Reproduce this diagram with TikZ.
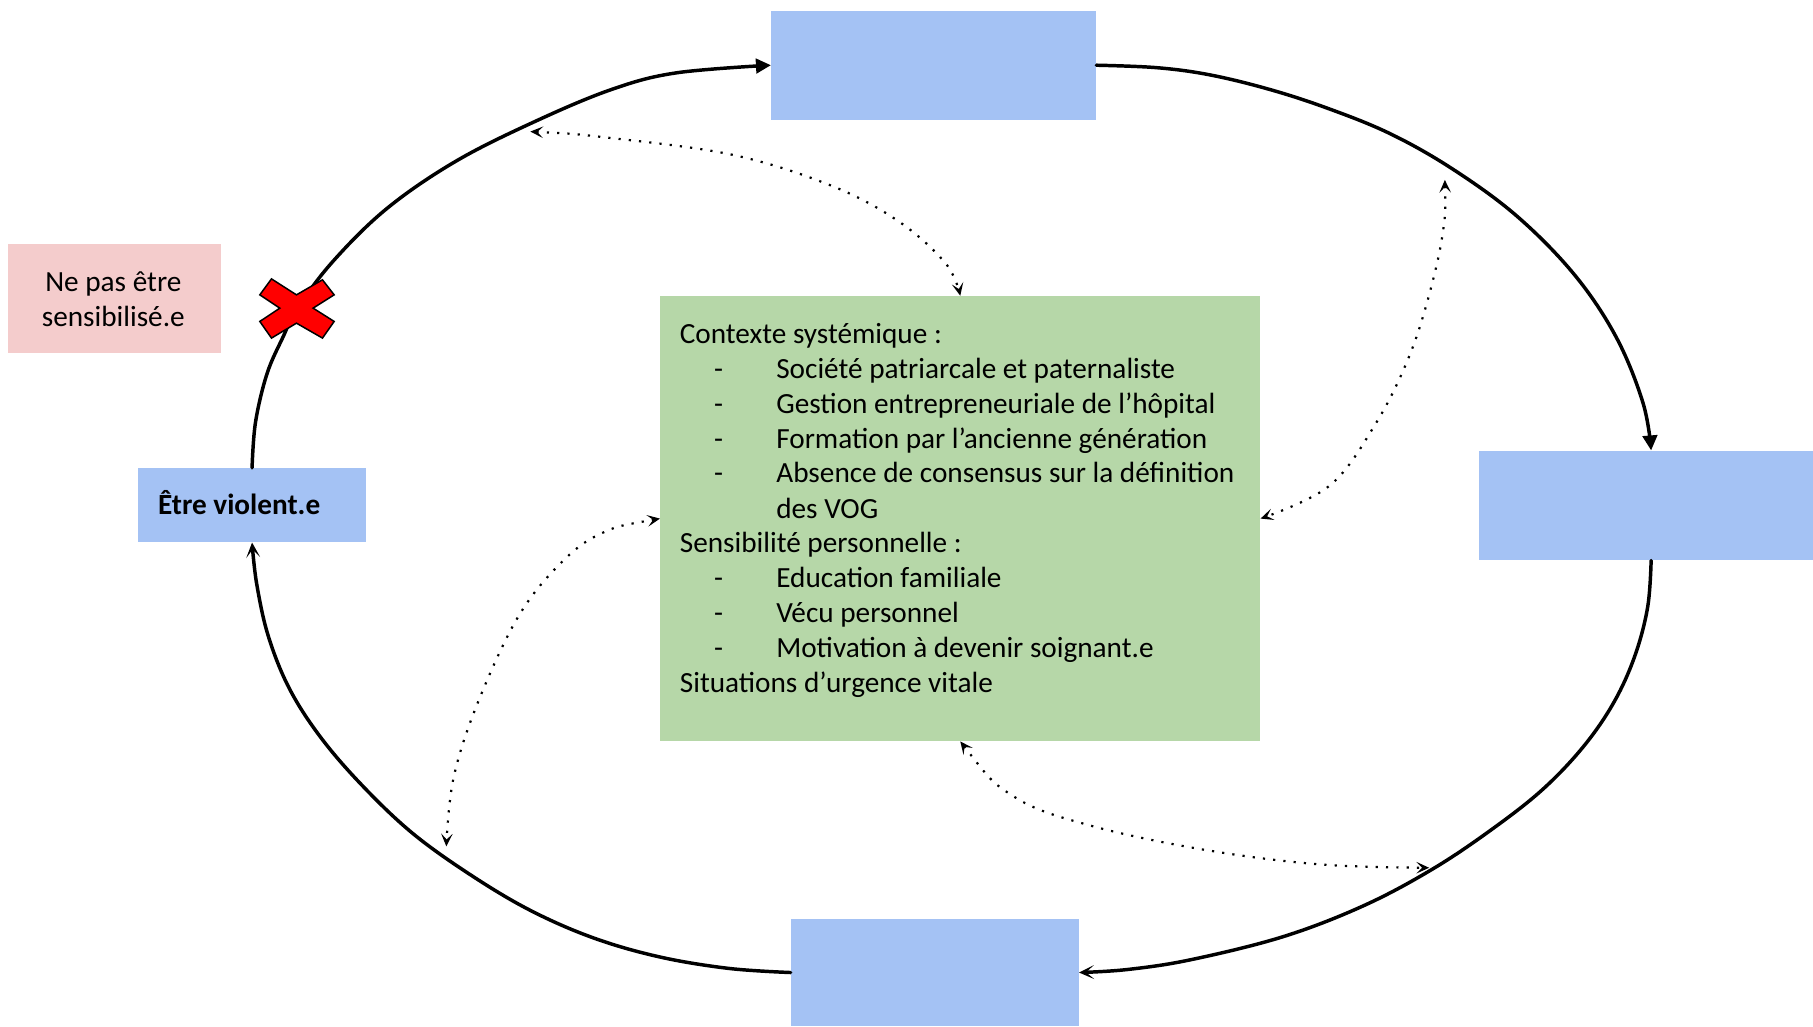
\documentclass[tikz,border=0pt]{standalone}
\usepackage{fontspec}
\setmainfont{Carlito}
\usetikzlibrary{arrows.meta}
\definecolor{boxblue}{HTML}{A4C2F4}
\definecolor{boxgreen}{HTML}{B6D7A8}
\definecolor{boxpink}{HTML}{F4CCCC}
\begin{document}
\begin{tikzpicture}[x=1pt,y=-1pt,
  bluebox/.style={rectangle,fill=boxblue,inner sep=0pt,draw=none},
  greenbox/.style={rectangle,fill=boxgreen,inner sep=0pt,draw=none},
  pinkbox/.style={rectangle,fill=boxpink,inner sep=0pt,draw=none,align=center},
  txt/.style={anchor=base west,inner sep=0pt,font=\fontsize{25.3}{30}\selectfont},
  cyclearc/.style={line width=3pt,line cap=round,line join=round},
  tipfull/.style={-{Triangle[length=13pt,width=12.5pt]}},
  tipbarb/.style={-{Stealth[length=13pt,width=12pt,inset=7pt]}},
  dotlink/.style={line width=1.9pt,dash pattern=on 1.9pt off 7pt,
    {Stealth[length=11pt,width=10pt,inset=5pt]}-{Stealth[length=11pt,width=10pt,inset=5pt]}}
]
\useasboundingbox (0,0) rectangle (1568,888);

% boxes
\node[bluebox,minimum width=281pt,minimum height=94.6pt] (top) at (807.5,56.4) {};
\node[bluebox,minimum width=298pt,minimum height=94.8pt] (right) at (1428,437.2) {};
\node[bluebox,minimum width=249pt,minimum height=93pt] (bottom) at (808.5,841.1) {};
\node[bluebox,minimum width=196.7pt,minimum height=64.2pt] (left) at (218,436.9) {};
\node[txt,font=\fontsize{25.3}{30}\selectfont\bfseries] (lefttxt) at (136.5,445) {Être violent.e};

\node[pinkbox,minimum width=184pt,minimum height=94.5pt] (pink) at (99,258.2) {};
\node[anchor=base,inner sep=0pt,font=\fontsize{25.3}{30}\selectfont] (pink1) at (98,252) {Ne pas être};
\node[anchor=base,inner sep=0pt,font=\fontsize{25.3}{30}\selectfont] (pink2) at (98,282.3) {sensibilisé.e};

\node[greenbox,minimum width=519pt,minimum height=385pt] (ctx) at (830.5,448.5) {};

% green box text
\node[txt] (l1) at (587.8,296.7) {Contexte systémique :};
\node[txt] (d2) at (617.4,327.0) {-};
\node[txt] (l2) at (671.2,327.0) {Société patriarcale et paternaliste};
\node[txt] (d3) at (617.4,357.2) {-};
\node[txt] (l3) at (671.2,357.2) {Gestion entrepreneuriale de l’hôpital};
\node[txt] (d4) at (617.4,387.5) {-};
\node[txt] (l4) at (671.2,387.5) {Formation par l’ancienne génération};
\node[txt] (d5) at (617.4,417.7) {-};
\node[txt] (l5) at (671.2,417.7) {Absence de consensus sur la définition};
\node[txt] (l6) at (671.2,448.0) {des VOG};
\node[txt] (l7) at (587.8,478.2) {Sensibilité personnelle :};
\node[txt] (d8) at (617.4,508.5) {-};
\node[txt] (l8) at (671.2,508.5) {Education familiale};
\node[txt] (d9) at (617.4,538.7) {-};
\node[txt] (l9) at (671.2,538.7) {Vécu personnel};
\node[txt] (d10) at (617.4,569.0) {-};
\node[txt] (l10) at (671.2,569.0) {Motivation à devenir soignant.e};
\node[txt] (l11) at (587.8,599.2) {Situations d’urgence vitale};

% cycle arcs
\draw[cyclearc,tipfull] plot[smooth,tension=0.6] coordinates {
  (left.north) (221,365) (231,323) (245,291) (257,267) (288,226)
  (335,180) (395,139) (465,104) (530,77) (585,63) (top.west)};
\draw[cyclearc,tipfull] plot[smooth,tension=0.6] coordinates {
  (top.east) (1000,58.5) (1045,64.5) (1095,76.5) (1145,92.5)
  (1201.4,115.2) (1256,146) (1312,187) (1362,238) (1398,292)
  (1421,348.6) (right.north)};
\draw[cyclearc,tipbarb] plot[smooth,tension=0.6] coordinates {
  (right.south) (1425,525) (1414,567) (1396,607) (1370,645) (1335,682)
  (1292,716) (1240,751) (1180,783) (1110,810) (1030,830) (975,838.5) (bottom.east)};
\draw[cyclearc,tipbarb] plot[smooth,tension=0.6] coordinates {
  (bottom.west) (630,837.5) (570,827.5) (512.8,811) (458,787)
  (406,756) (356,720) (312,678) (276.6,636.7) (250,595)
  (232,550) (222,505) (left.south)};

% red cross
\filldraw[fill=red,draw=black,line width=1.3pt,line join=miter]
  (224.7,255.0) -- (234.8,241.2) -- (256.4,255.0) -- (278.9,242.0) -- (289.0,255.0)
  -- (270.8,266.5) -- (289.0,278.0) -- (278.9,292.4) -- (256.4,279.5)
  -- (234.8,292.4) -- (224.7,278.0) -- (242.0,266.5) -- cycle;

% dotted links
\coordinate (c1) at (458.7,113.8);
\coordinate (c2) at (1249.6,155.6);
\coordinate (c3) at (386,732);
\coordinate (c4) at (1236,750.5);
\draw[dotlink] plot[smooth,tension=0.6] coordinates {
  (c1) (525,119) (634,134) (720,161) (778,192) (818,228) (ctx.north)};
\draw[dotlink] plot[smooth,tension=0.6] coordinates {
  (c2) (1248,200) (1236,255) (1218,310) (1190,366) (1150,420) (ctx.east)};
\draw[dotlink] plot[smooth,tension=0.6] coordinates {
  (ctx.west) (518.6,462) (482,490) (446.6,536) (412,610.8) (392,674) (c3)};
\draw[dotlink] plot[smooth,tension=0.6] coordinates {
  (ctx.south) (877,689) (943,714) (1042,735) (1141.7,747.6) (c4)};
\end{tikzpicture}
\end{document}
